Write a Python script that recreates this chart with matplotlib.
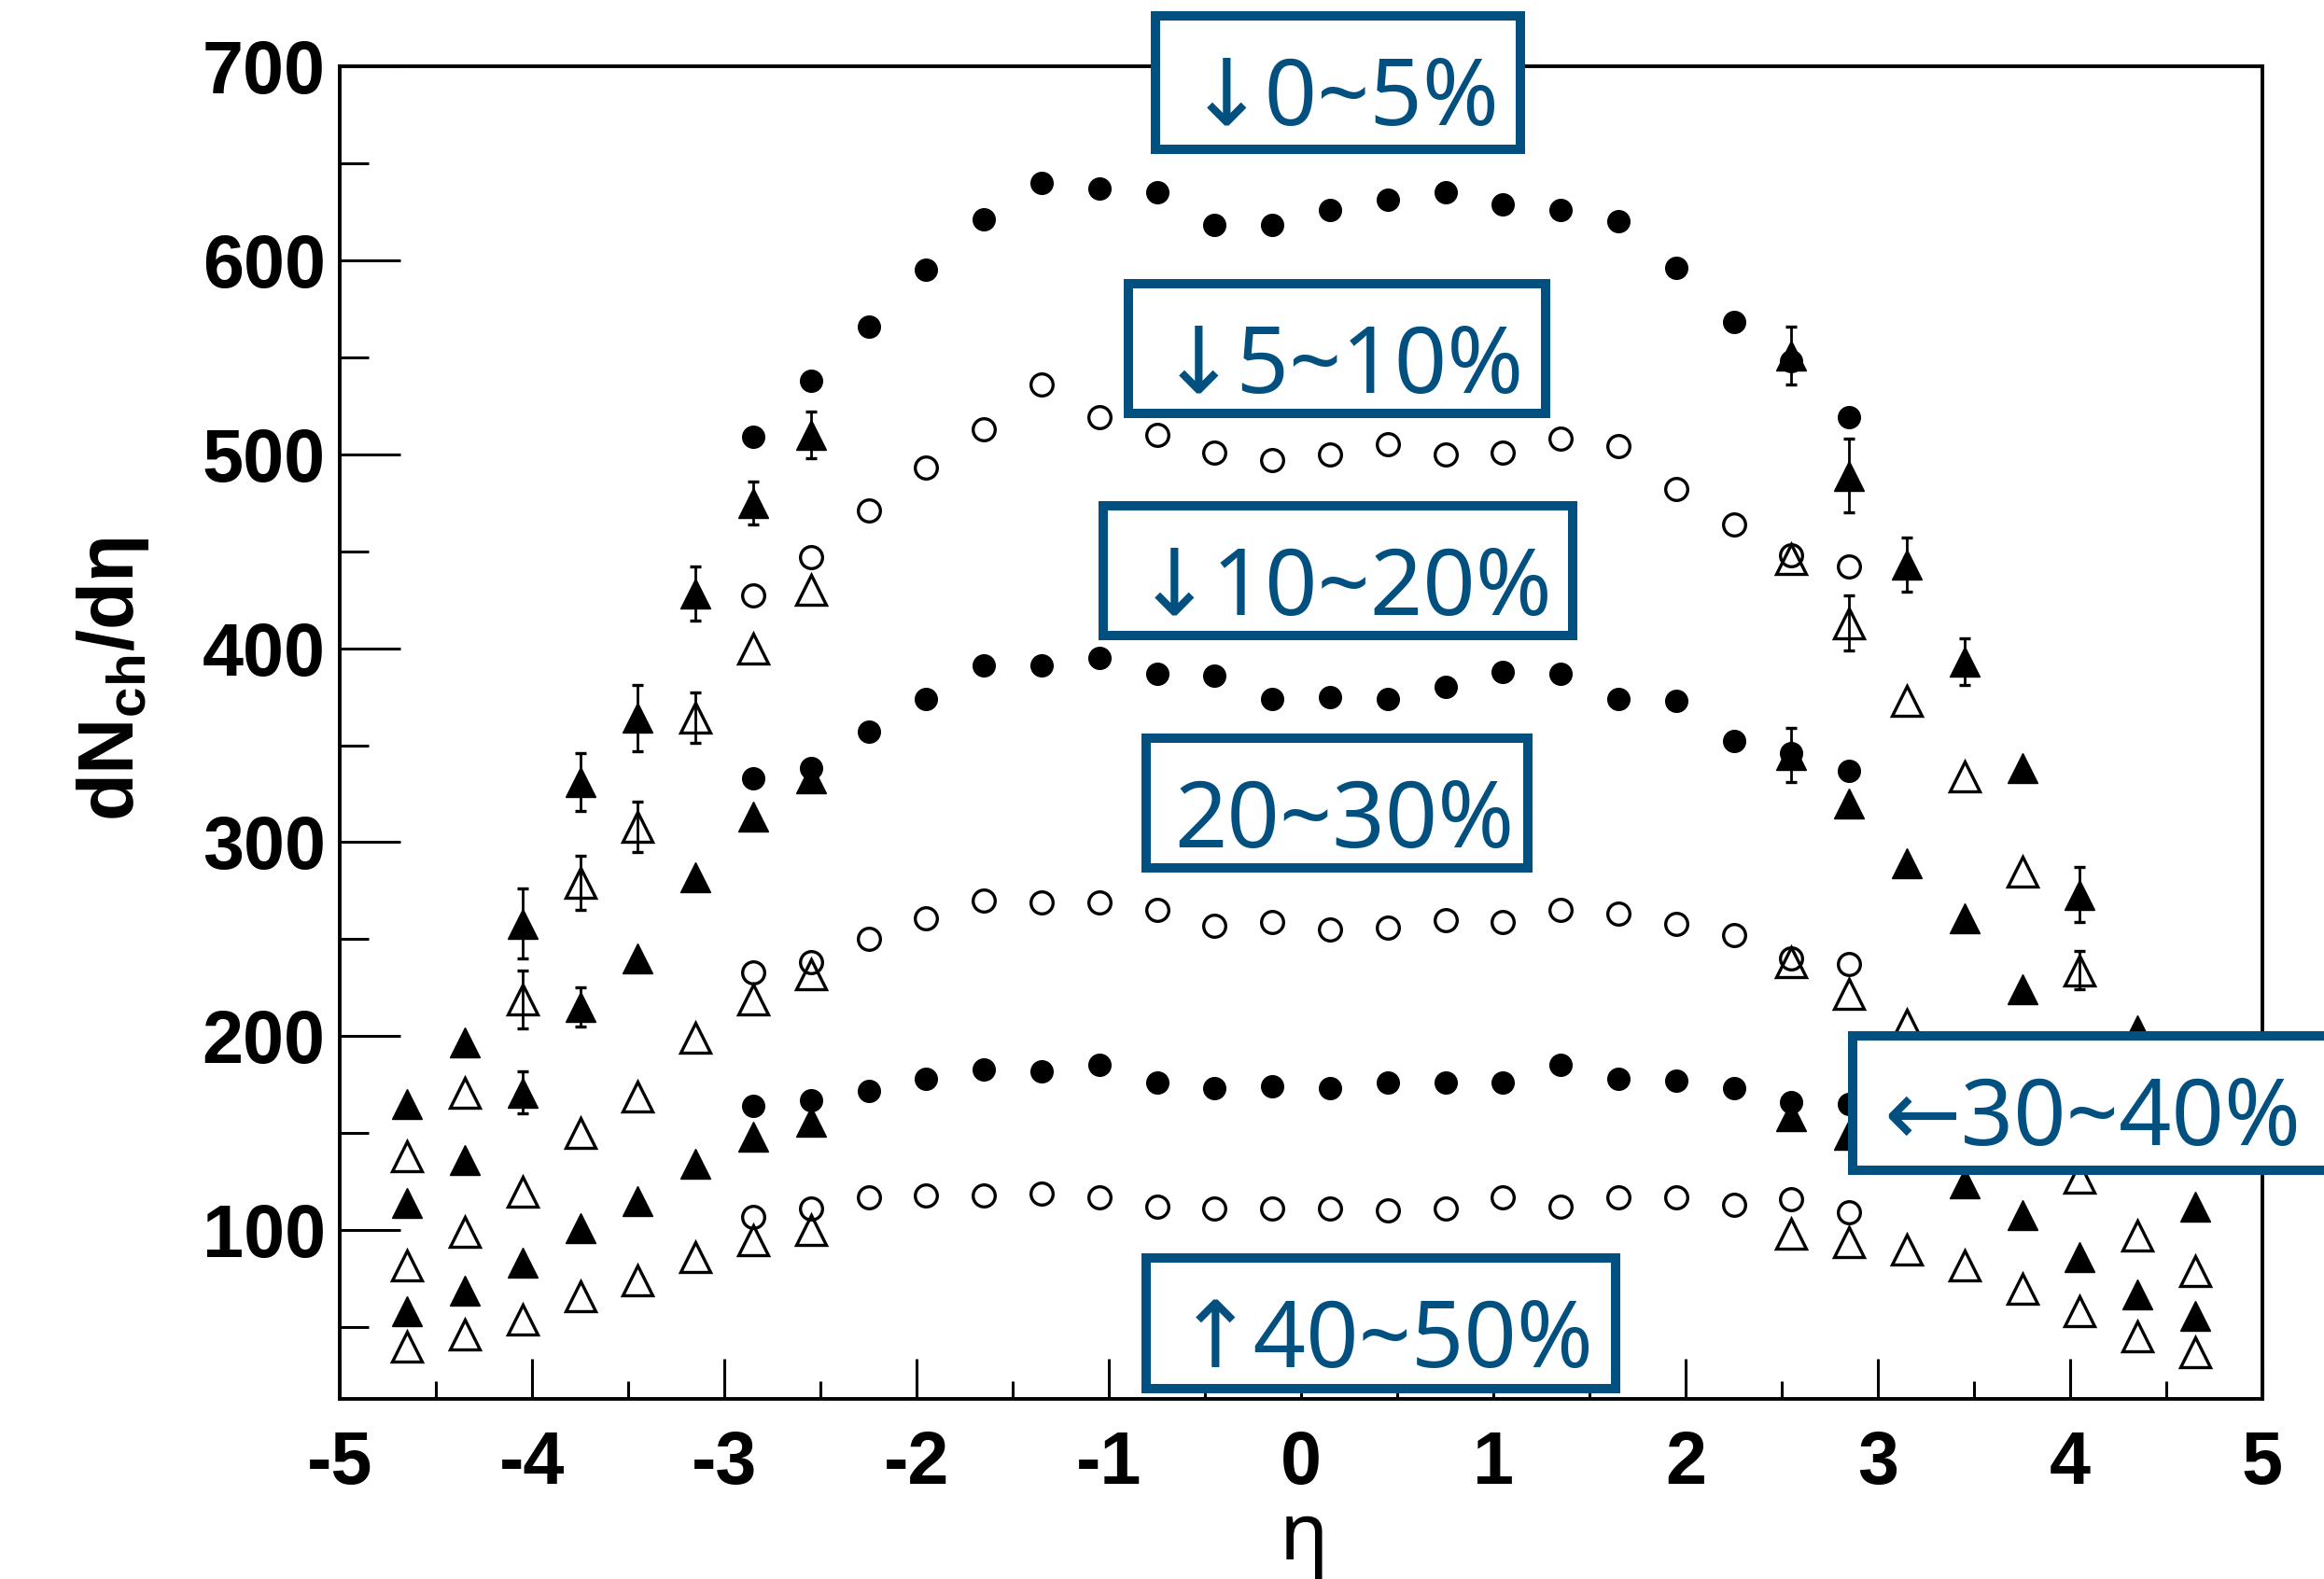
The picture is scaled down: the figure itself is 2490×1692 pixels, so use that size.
import numpy as np
import matplotlib
matplotlib.use("Agg")
import matplotlib.pyplot as plt
from matplotlib.patches import Rectangle
from matplotlib.ticker import MultipleLocator

# ---------------------------------------------------------------------------
# dN_ch/deta for six centrality classes
# mid-rapidity points (circles) and forward/backward points (triangles)
# ---------------------------------------------------------------------------
eta_mid = [-2.85, -2.55, -2.25, -1.95, -1.65, -1.35, -1.05, -0.75, -0.45, -0.15,
           0.15, 0.45, 0.75, 1.05, 1.35, 1.65, 1.95, 2.25, 2.55, 2.85]
eta_fwd = [-4.65, -4.35, -4.05, -3.75, -3.45, -3.15, -2.85, -2.55,
           2.55, 2.85, 3.15, 3.45, 3.75, 4.05, 4.35, 4.65]

mid_0_5 = [509, 538, 566, 595, 621, 640, 637, 635, 618, 618,
           626, 631, 635, 629, 626, 620, 596, 568, 548, 519]
mid_5_10 = [427, 447, 471, 493, 513, 536, 519, 510, 501, 497,
            500, 505, 500, 501, 508, 504, 482, 464, 448, 442]
mid_10_20 = [333, 338, 357, 374, 391, 391, 395, 387, 386, 374,
             375, 374, 380, 388, 387, 374, 373, 352, 346, 337]
mid_20_30 = [233, 238, 250, 261, 270, 269, 269, 265, 257, 259,
             255, 256, 260, 259, 265, 263, 258, 252, 240, 237]
mid_30_40 = [164, 167, 172, 178, 183, 182, 185, 176, 173, 174,
             173, 176, 176, 176, 185, 178, 177, 173, 166, 165]
mid_40_50 = [107, 111, 117, 118, 118, 119, 117, 112, 111, 111,
             111, 110, 111, 117, 112, 117, 117, 113, 116, 109]

fwd_0_5 = [165, 197, 258, 331, 364, 428, 475, 510,
           551, 489, 443, 393, 338, 273, 203, 168]
fwd_5_10 = [138, 171, 219, 279, 308, 364, 400, 430,
            446, 413, 373, 334, 285, 234, 178, 140]
fwd_10_20 = [114, 136, 171, 215, 240, 282, 313, 333,
             345, 320, 289, 261, 224, 176, 140, 112]
fwd_20_30 = [82, 99, 120, 150, 169, 199, 219, 232,
             238, 222, 206, 178, 155, 127, 97, 79]
fwd_30_40 = [58, 69, 83, 101, 115, 134, 148, 156,
             159, 149, 138, 124, 108, 86, 67, 56]
fwd_40_50 = [40, 46, 54, 66, 74, 86, 95, 100,
             98, 94, 90, 82, 70, 58, 45, 37]

# vertical uncertainties on the forward points (0 = none shown)
fwd_err_0_5 = [0, 0, 18, 15, 17, 14, 11, 12, 15, 19, 14, 12, 0, 14, 0, 0]
fwd_err_5_10 = [0, 0, 15, 14, 13, 13, 0, 0, 0, 14, 0, 0, 0, 10, 0, 0]
fwd_err_10_20 = [0, 0, 11, 10, 0, 0, 0, 0, 14, 0, 0, 0, 0, 0, 0, 0]

centrality_labels = ["\u21930~5%", "\u21935~10%", "\u219310~20%",
                     "20~30%", "\u219030~40%", "\u219140~50%"]

y_ticks = [100, 200, 300, 400, 500, 600, 700]
x_ticks = [-5, -4, -3, -2, -1, 0, 1, 2, 3, 4, 5]

# ---------------------------------------------------------------------------
plt.rcParams["axes.unicode_minus"] = False
plt.rcParams["mathtext.fontset"] = "custom"
plt.rcParams["mathtext.rm"] = "Noto Sans"
plt.rcParams["mathtext.bf"] = "Liberation Sans:bold"
plt.rcParams["mathtext.it"] = "Liberation Sans:bold"

W, H = 2490, 1692
fig = plt.figure(figsize=(W / 100, H / 100), dpi=100)
fig.patch.set_facecolor("white")

ax_l, ax_r, ax_t, ax_b = 364, 2424, 71, 1499
ax = fig.add_axes([ax_l / W, 1 - ax_b / H, (ax_r - ax_l) / W, (ax_b - ax_t) / H])
ax.set_xlim(-5, 5)
ax.set_ylim(13, 700)

black = "#000000"
circ_ms = 17
tri_ms = 23
open_mew = 2.4

series = [
    (mid_0_5, fwd_0_5, fwd_err_0_5, True),
    (mid_5_10, fwd_5_10, fwd_err_5_10, False),
    (mid_10_20, fwd_10_20, fwd_err_10_20, True),
    (mid_20_30, fwd_20_30, None, False),
    (mid_30_40, fwd_30_40, None, True),
    (mid_40_50, fwd_40_50, None, False),
]

eta_f = np.array(eta_fwd)
for mid, fwd, err, filled in series:
    fwd = np.array(fwd, dtype=float)
    if err is not None:
        err = np.array(err, dtype=float)
        m = err > 0
        ax.errorbar(eta_f[m], fwd[m], yerr=err[m], fmt="none", ecolor=black,
                    elinewidth=2.0, capsize=4.5, capthick=2.4, zorder=2)
    if filled:
        ax.plot(eta_mid, mid, "o", ms=circ_ms, mfc=black, mec=black, mew=1,
                zorder=3)
        ax.plot(eta_f, fwd, "^", ms=tri_ms, mfc=black, mec=black, mew=1,
                zorder=3)
    else:
        ax.plot(eta_mid, mid, "o", ms=circ_ms, mfc="none", mec=black,
                mew=open_mew, zorder=3)
        ax.plot(eta_f, fwd, "^", ms=tri_ms, mfc="none", mec=black,
                mew=open_mew, zorder=3)

# axes frame and ticks
for s in ax.spines.values():
    s.set_linewidth(2.8)
    s.set_color(black)
ax.xaxis.set_major_locator(MultipleLocator(1))
ax.xaxis.set_minor_locator(MultipleLocator(0.5))
ax.yaxis.set_minor_locator(MultipleLocator(50))
ax.set_xticks(x_ticks)
ax.set_yticks(y_ticks)
ax.set_xticklabels([str(v) for v in x_ticks])
ax.set_yticklabels([str(v) for v in y_ticks])
ax.tick_params(axis="both", which="both", direction="in", top=False,
               right=False, width=2.2, color=black)
ax.tick_params(axis="y", which="major", length=47, pad=11)
ax.tick_params(axis="y", which="minor", length=22)
ax.tick_params(axis="x", which="major", length=31, pad=24)
ax.tick_params(axis="x", which="minor", length=14)
for lab in ax.get_xticklabels() + ax.get_yticklabels():
    lab.set_fontfamily("Liberation Sans")
    lab.set_fontweight("bold")
    lab.set_fontsize(57)

ax.set_ylabel("dN$_{\\mathbf{ch}}$/d\u03b7",
              fontsize=60, fontweight="bold", fontfamily="Liberation Sans")
ax.yaxis.set_label_coords(-0.098, 0.54)

# x-axis title (math layout keeps its extent tight to the glyph)
fig.text(1394 / W, (H - 1671) / H, "$\\mathrm{\u03b7}$", ha="center",
         va="baseline", fontsize=62, color=black)

# centrality class labels in framed boxes
box_color = "#02507f"
boxes = [
    (1233, 12, 1634, 165),
    (1204, 299, 1661, 448),
    (1177, 537, 1690, 686),
    (1223, 786, 1642, 935),
    (1980, 1105, 2520, 1259),
    (1223, 1343, 1736, 1493),
]
text_x = [1440, 1438, 1440, 1440, 2242, 1484]
lw_px = 10
for (x0, y0, x1, y1), tx, label in zip(boxes, text_x, centrality_labels):
    h = lw_px / 2
    rect = Rectangle(((x0 + h) / W, 1 - (y1 - h) / H),
                     (x1 - x0 - lw_px) / W, (y1 - y0 - lw_px) / H,
                     transform=fig.transFigure, facecolor="white",
                     edgecolor=box_color, linewidth=lw_px * 0.72, zorder=10)
    fig.add_artist(rect)
    fig.text(tx / W, 1 - (y0 + 122) / H, label, ha="center", va="baseline",
             fontsize=71, color=box_color, zorder=11,
             family=["Noto Sans", "DejaVu Sans"])

fig.savefig("out.png", dpi=100, facecolor="white")
